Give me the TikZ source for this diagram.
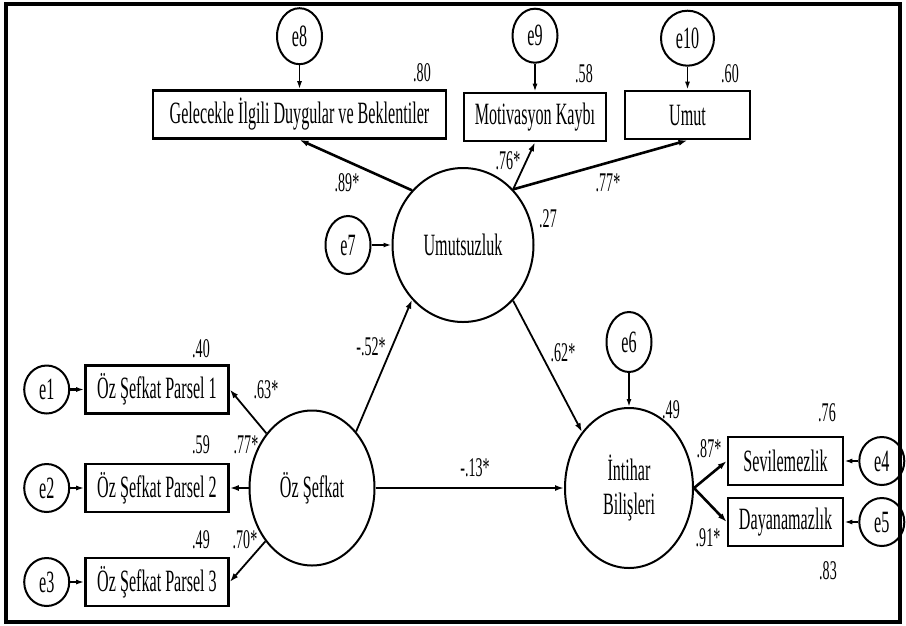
\documentclass[tikz,border=0pt]{standalone}
\usepackage{fontspec}
\setmainfont{Liberation Serif}[FakeStretch=0.52]
\usetikzlibrary{arrows.meta, positioning, shapes.geometric}
\tikzset{%
	latent/.style={draw, ellipse, line width=2pt, inner sep=0pt, align=center,%
		font=\fontsize{31}{34}\selectfont},
	ind/.style={draw, rectangle, line width=2.6pt, minimum height=48pt, inner sep=0pt,%
		font=\fontsize{31}{31}\selectfont},
	errc/.style={draw, ellipse, line width=2pt, minimum width=45pt, minimum height=48pt,%
		inner sep=0pt, font=\fontsize{31}{31}\selectfont},
	reg/.style={-{Latex[length=9pt, width=6pt]}, line width=1.8pt},
	load/.style={-{Latex[length=9pt, width=6pt]}, line width=2.6pt},
	res/.style={-{Latex[length=8pt, width=5pt]}, line width=1.6pt},
	coef/.style={inner sep=0pt, font=\fontsize{27}{27}\selectfont}
}
\begin{document}
\begin{tikzpicture}[x=1pt, y=-1pt]
	\useasboundingbox (0,0) rectangle (906,625);
	\draw[line width=4pt] (6,4) rectangle (900,622);

	% latent variables
	\node[latent, minimum width=141pt, minimum height=154pt] (umutsuz) at (463,245) {Umutsuzluk};
	\node[latent, minimum width=125pt, minimum height=155pt] (oz) at (312,488) {Öz Şefkat};
	\node[latent, minimum width=128pt, minimum height=160pt] (intihar) at (629,488) {İntihar\\Bilişleri};

	% indicators
	\node[ind, minimum width=293pt] (gelecek) at (299.5,114.5) {Gelecekle İlgili Duygular ve Beklentiler};
	\node[ind, minimum width=142pt] (motiv) at (535,117) {Motivasyon Kaybı};
	\node[ind, minimum width=125pt] (umutbox) at (687.5,115) {Umut};
	\node[ind, minimum width=143pt] (p1) at (157,389.5) {Öz Şefkat Parsel 1};
	\node[ind, minimum width=143pt] (p2) at (157,488) {Öz Şefkat Parsel 2};
	\node[ind, minimum width=143pt] (p3) at (157,582) {Öz Şefkat Parsel 3};
	\node[ind, minimum width=115pt] (sev) at (785.5,461) {Sevilemezlik};
	\node[ind, minimum width=115pt] (day) at (785.5,522) {Dayanamazlık};

	% errors
	\node[errc, minimum height=56pt, above=24pt of gelecek] (e8) {e8};
	\node[errc, minimum height=54pt, above=28pt of motiv] (e9) {e9};
	\node[errc, minimum width=53pt, minimum height=55pt, above=23pt of umutbox] (e10) {e10};
	\node[errc, minimum height=58pt, left=20pt of umutsuz] (e7) {e7};
	\node[errc, minimum height=60pt, above=34pt of intihar] (e6) {e6};
	\node[errc, left=14pt of p1] (e1) {e1};
	\node[errc, left=14pt of p2] (e2) {e2};
	\node[errc, left=14pt of p3] (e3) {e3};
	\node[errc, right=14pt of sev] (e4) {e4};
	\node[errc, right=14pt of day] (e5) {e5};

	% coefficients
	\node[coef] (r80) at (422,73) {.80};
	\node[coef] (r58) at (584,74) {.58};
	\node[coef] (r60) at (730,74) {.60};
	\node[coef] (r27) at (548,219) {.27};
	\node[coef] (l89) at (347,183) {.89*};
	\node[coef] (l76) at (508,161) {.76*};
	\node[coef] (l77a) at (608,183) {.77*};
	\node[coef] (b52) at (371,347) {-.52*};
	\node[coef] (b62) at (563,353) {.62*};
	\node[coef] (b13) at (475,468) {-.13*};
	\node[coef] (r40) at (201,349) {.40};
	\node[coef] (l63) at (266,390) {.63*};
	\node[coef] (r59) at (201,445) {.59};
	\node[coef] (l77b) at (246,445) {.77*};
	\node[coef] (r49a) at (201,540) {.49};
	\node[coef] (l70) at (245,540) {.70*};
	\node[coef] (r49b) at (671,410) {.49};
	\node[coef] (r76) at (827,413) {.76};
	\node[coef] (l87) at (709,449) {.87*};
	\node[coef] (l91) at (708,538) {.91*};
	\node[coef] (r83) at (828,571) {.83};

	% paths
	\draw[res] (e8) -- (gelecek);
	\draw[res] (e9) -- (motiv);
	\draw[res] (e10) -- (umutbox);
	\draw[load] (umutsuz.133) -- (gelecek.south);
	\draw[reg] (umutsuz.48) -- (motiv.south);
	\draw[load] (umutsuz.48) -- (umutbox.south);
	\draw[res, line width=2.4pt] (e7) -- (umutsuz);
	\draw[reg] (oz.52) -- (umutsuz.227);
	\draw[reg] (umutsuz.312) -- (intihar.130);
	\draw[load] (oz) -- (intihar);
	\draw[res] (e6) -- (intihar);
	\draw[reg] (oz) -- (p1.east);
	\draw[reg] (oz) -- (p2);
	\draw[reg] (oz) -- (p3.east);
	\draw[res, line width=2.4pt] (e1) -- (p1);
	\draw[res, line width=2.4pt] (e2) -- (p2);
	\draw[res, line width=2.4pt] (e3) -- (p3);
	\draw[load] (intihar.east) -- (sev.west);
	\draw[load] (intihar.east) -- (day.west);
	\draw[res, line width=2.4pt] (e4) -- (sev);
	\draw[res, line width=2.4pt] (e5) -- (day);
\end{tikzpicture}
\end{document}
